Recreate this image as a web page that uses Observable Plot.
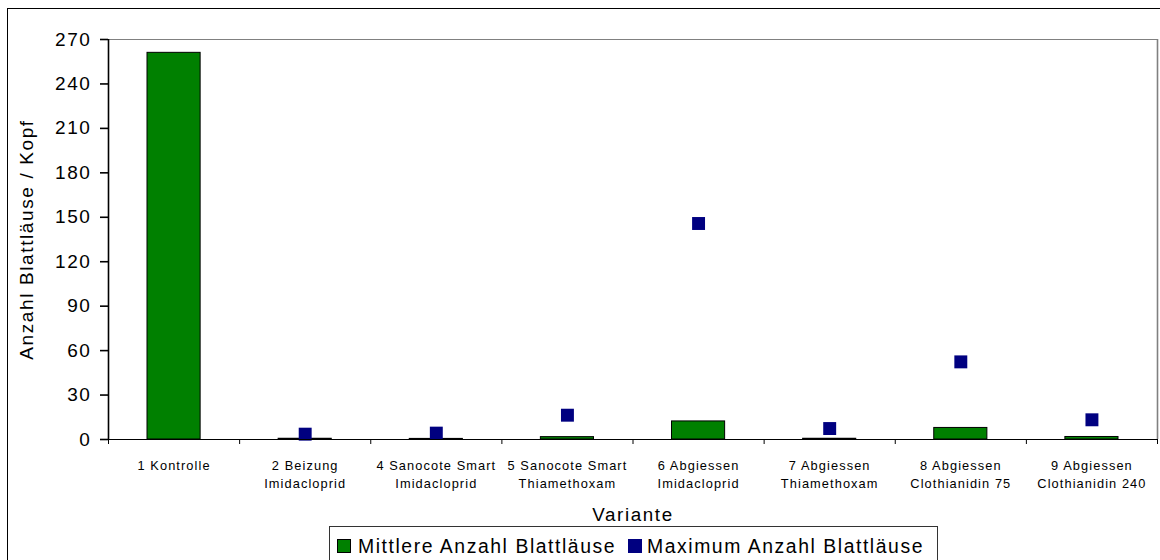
<!DOCTYPE html>
<html>
<head>
<meta charset="utf-8">
<script src="https://cdn.jsdelivr.net/npm/d3@7"></script>
<script src="https://cdn.jsdelivr.net/npm/@observablehq/plot@0.6"></script>
<style>
  html, body { margin: 0; padding: 0; background: #fff; overflow: hidden; }
  #wrap { position: relative; width: 1160px; height: 560px; font-family: "Liberation Sans", Arial, sans-serif; }
  #outer { position: absolute; left: 7px; top: 8px; width: 1200px; height: 600px; border: 1px solid #000; }
  #chart { position: absolute; left: 0; top: 0; width: 1160px; }
  #chart svg { position: absolute; left: 0; top: 0; }
  #chart svg text { letter-spacing: 0.085em; }
  #legend { position: absolute; left: 329px; top: 526px; width: 607px; height: 50px; border: 1px solid #333; background: #fff; font-size: 19.4px; color: #000; letter-spacing: 0.08em; }
  #legend .sw { position: absolute; top: 12px; width: 14px; height: 14px; box-sizing: border-box; border: 1px solid #000; }
  #legend .lt { position: absolute; top: 8px; line-height: 22px; white-space: nowrap; }
</style>
</head>
<body>
<div id="wrap">
  <div id="outer"></div>
  <div id="chart"></div>
  <div id="legend"></div>
</div>
<script>
// ---- data ----
const categories = [
  "1 Kontrolle",
  "2 Beizung\nImidacloprid",
  "4 Sanocote Smart\nImidacloprid",
  "5 Sanocote Smart\nThiamethoxam",
  "6 Abgiessen\nImidacloprid",
  "7 Abgiessen\nThiamethoxam",
  "8 Abgiessen\nClothianidin 75",
  "9 Abgiessen\nClothianidin 240"
];
const meanValues = [261, 0.5, 0.4, 1.6, 12.2, 0.5, 7.8, 1.7];
const maxValues = [null, 3.6, 4.3, 16.4, 145.8, 7.4, 52.4, 13.3];
const yTicks = [0, 30, 60, 90, 120, 150, 180, 210, 240, 270];
const seriesNames = ["Mittlere Anzahl Blattläuse", "Maximum Anzahl Blattläuse"];
const seriesColors = ["#008000", "#000080"];
const xTitle = "Variante";
const yTitle = "Anzahl Blattläuse / Kopf";

const meanData = categories.map((c, i) => ({cat: c, v: meanValues[i]}));
const maxData = categories.map((c, i) => ({cat: c, v: maxValues[i]})).filter(d => d.v != null);

const W = 1160, H = 526;
const mL = 108, mR = 3, mT = 39, mB = 87;
const bw = (W - mL - mR) / categories.length;
const lastCat = categories[categories.length - 1];

const base = {
  width: W,
  height: H,
  marginLeft: mL,
  marginRight: mR,
  marginTop: mT,
  marginBottom: mB,
  style: {fontFamily: "'Liberation Sans', Arial, sans-serif", fontSize: "13px", color: "#000", background: "transparent"},
  x: {type: "band", domain: categories, padding: 0, round: false, axis: null},
  y: {domain: [0, 270], axis: null}
};

// layer 1: plot-area border, bars, points
const chartMarks = Plot.plot({
  ...base,
  marks: [
    Plot.ruleY([270], {stroke: "#808080"}),
    Plot.barY(meanData, {x: "cat", y: "v", fill: seriesColors[0], stroke: "#000", strokeWidth: 1, insetLeft: 39, insetRight: 39}),
    Plot.dot(maxData, {x: "cat", y: "v", symbol: "square", r: 7.3, fill: seriesColors[1]})
  ]
});

// layer 2: tick labels and titles
const chartText = Plot.plot({
  ...base,
  marks: [
    Plot.text(yTicks, {y: d => d, text: d => String(d), frameAnchor: "left", textAnchor: "end", lineAnchor: "middle", dx: -17, fontSize: 19, fill: "#000"}),
    Plot.text(categories, {x: d => d, text: d => d, frameAnchor: "bottom", textAnchor: "middle", lineAnchor: "top", dy: 17, fontSize: 12.8, lineHeight: 1.445, fill: "#000"}),
    Plot.text([xTitle], {text: d => d, frameAnchor: "bottom", textAnchor: "middle", lineAnchor: "middle", dy: 75.2, fontSize: 18.8, fill: "#000"}),
    Plot.text([yTitle], {text: d => d, frameAnchor: "left", textAnchor: "middle", lineAnchor: "middle", rotate: -90, dx: -81.3, fontSize: 19, fill: "#000"})
  ]
});

// layer 3 (top): axis lines and ticks, right border
const chartAxes = Plot.plot({
  ...base,
  marks: [
    Plot.ruleX([lastCat], {x: d => d, dx: bw / 2, stroke: "#808080", strokeWidth: 1.6}),
    Plot.ruleX([categories[0]], {x: d => d, dx: -bw / 2, stroke: "#000", strokeWidth: 1.6}),
    Plot.ruleY([0], {stroke: "#000"}),
    Plot.ruleX(categories, {x: d => d, y1: 0, y2: 0, insetBottom: -5, dx: -bw / 2, stroke: "#000"}),
    Plot.ruleX([lastCat], {x: d => d, y1: 0, y2: 0, insetBottom: -5, dx: bw / 2, stroke: "#000"}),
    Plot.ruleY(yTicks, {y: d => d, insetLeft: -8, insetRight: W - mL - mR, stroke: "#000", strokeWidth: 1.6})
  ]
});

const holder = document.getElementById("chart");
holder.appendChild(chartMarks);
holder.appendChild(chartText);
holder.appendChild(chartAxes);

// legend
const legend = document.getElementById("legend");
const swLeft = [7, 298];
const txtLeft = [28, 317];
seriesNames.forEach((name, i) => {
  const sw = document.createElement("div");
  sw.className = "sw";
  sw.style.left = swLeft[i] + "px";
  sw.style.background = seriesColors[i];
  if (i === 1) sw.style.borderColor = seriesColors[1];
  legend.appendChild(sw);
  const t = document.createElement("div");
  t.className = "lt";
  t.style.left = txtLeft[i] + "px";
  t.textContent = name;
  legend.appendChild(t);
});
</script>
</body>
</html>
